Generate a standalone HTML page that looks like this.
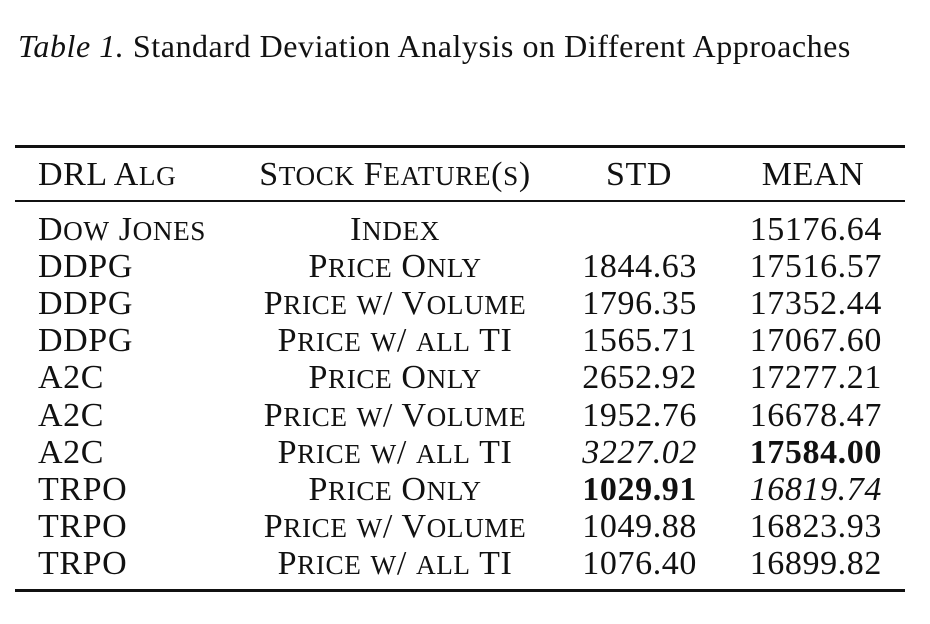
<!DOCTYPE html>
<html><head><meta charset="utf-8">
<style>
body{margin:0;width:930px;height:624px;background:#fff;position:relative;overflow:hidden;font-family:"Liberation Serif",serif;color:#111;}
.t{position:absolute;white-space:nowrap;font-size:34px;line-height:38px;letter-spacing:0.6px;}
.s{font-size:0.8em;}
.rule{position:absolute;left:15px;width:890px;background:#111;}
.c1{left:38px;}
.c2{width:400px;left:195px;text-align:center;}
.c3{right:233px;text-align:right;}
.c4{right:48px;text-align:right;}
</style></head><body>
<div class="t" style="left:18px;top:27px;font-size:32px;letter-spacing:0.55px;"><i>Table 1.</i> Standard Deviation Analysis on Different Approaches</div>
<div class="rule" style="top:145px;height:3px;"></div>
<div class="rule" style="top:200px;height:2px;"></div>
<div class="rule" style="top:589px;height:3px;"></div>
<div id="tbl"></div>
<script>
const algs=["Dow Jones","DDPG","DDPG","DDPG","A2C","A2C","A2C","TRPO","TRPO","TRPO"];
const feats=["Index","Price Only","Price w/ Volume","Price w/ all TI","Price Only","Price w/ Volume","Price w/ all TI","Price Only","Price w/ Volume","Price w/ all TI"];
const stds=["","1844.63","1796.35","1565.71","2652.92","1952.76","3227.02","1029.91","1049.88","1076.40"];
const means=["15176.64","17516.57","17352.44","17067.60","17277.21","16678.47","17584.00","16819.74","16823.93","16899.82"];
const stdStyle=["","","","","","","i","b","",""];
const meanStyle=["","","","","","","b","i","",""];
const root=document.getElementById('tbl');
function scHtml(t){
  let out='';
  for(const ch of t){
    if(ch>='a'&&ch<='z')out+='<span class="s">'+ch.toUpperCase()+'</span>';
    else out+=ch;
  }
  return out;
}
function cell(cls,text,top,name,sty,sc){
  const d=document.createElement('div');
  d.className='t '+cls;
  d.style.top=top+'px';
  if(sc)d.innerHTML=scHtml(text);else d.textContent=text;
  if(sty==='b')d.style.fontWeight='bold';
  if(sty==='i')d.style.fontStyle='italic';
  
  
  root.appendChild(d);
  return d;
}
cell('c1','DRL Alg',156,'header-drl-alg','',true);
cell('c2','Stock Feature(s)',156,'header-stock-features','',true);
let h=cell('','STD',156,'header-std','',false);
h.style.left='539px';h.style.width='200px';h.style.textAlign='center';
h=cell('','MEAN',156,'header-mean','',false);
h.style.left='713px';h.style.width='200px';h.style.textAlign='center';
for(let i=0;i<algs.length;i++){
  const top=211+i*37.1;
  cell('c1',algs[i],top,'alg-cell','',true);
  cell('c2',feats[i],top,'feature-cell','',true);
  cell('c3',stds[i],top,'std-cell',stdStyle[i],false);
  cell('c4',means[i],top,'mean-cell',meanStyle[i],false);
}
</script>
</body></html>
